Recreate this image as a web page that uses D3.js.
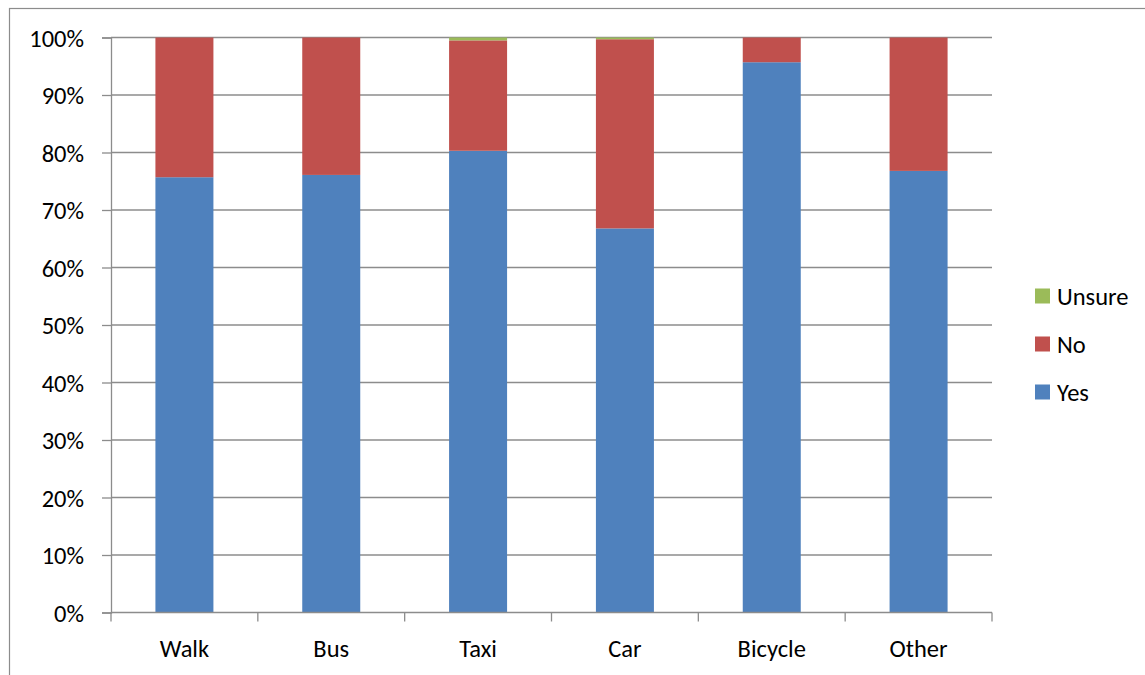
<!DOCTYPE html>
<html>
<head>
<meta charset="utf-8">
<script src="https://cdn.jsdelivr.net/npm/d3@7"></script>
<style>
  html, body { margin: 0; padding: 0; background: #fff; }
  svg { display: block; }
  text { font-family: Carlito, Lato, "Open Sans", sans-serif; fill: #000; }
</style>
</head>
<body>
<svg id="chart" width="1145" height="675"></svg>
<script>
// Transport modes and share of answers (percent)
const categories = ["Walk", "Bus", "Taxi", "Car", "Bicycle", "Other"];
const yes    = [75.7, 76.1, 80.3, 66.8, 95.7, 76.8];
const no     = [24.3, 23.9, 19.2, 32.9, 4.3, 23.2];
const unsure = [0.0, 0.0, 0.5, 0.3, 0.0, 0.0];
const seriesNames = ["Yes", "No", "Unsure"];
const seriesColors = ["#4F81BD", "#C0504D", "#9BBB59"];
const yTicks = [0, 10, 20, 30, 40, 50, 60, 70, 80, 90, 100];

const rows = categories.map((c, i) => ({ cat: c, Yes: yes[i], No: no[i], Unsure: unsure[i] }));
const stacked = d3.stack().keys(seriesNames)(rows);

const svg = d3.select("#chart");
const W = 1145, H = 675;
const m = { left: 111, right: W - 992, top: 37.5, bottom: H - 612.5 };
const fontSize = 24.5;

// chart frame
svg.append("rect")
  .attr("x", 9.5).attr("y", 8.5)
  .attr("width", W + 20).attr("height", H + 20)
  .attr("fill", "#fff").attr("stroke", "#8c8c8c").attr("stroke-width", 1.2);

const x = d3.scaleBand().domain(categories).range([m.left, W - m.right]).paddingInner(0.605).paddingOuter(0.3025);
const y = d3.scaleLinear().domain([0, 100]).range([H - m.bottom, m.top]);

// horizontal gridlines
svg.append("g").selectAll("line").data(yTicks.filter(t => t > 0)).join("line")
  .attr("x1", m.left).attr("x2", W - m.right)
  .attr("y1", d => y(d)).attr("y2", d => y(d))
  .attr("stroke", "#8c8c8c").attr("stroke-width", 1.3);

// stacked bars
svg.append("g").selectAll("g").data(stacked).join("g")
  .attr("fill", (d, i) => seriesColors[i])
  .selectAll("rect").data(d => d).join("rect")
  .attr("x", d => x(d.data.cat))
  .attr("width", x.bandwidth())
  .attr("y", d => y(d[1]))
  .attr("height", d => Math.max(0, y(d[0]) - y(d[1])));

// y axis
const yAxis = d3.axisLeft(y).tickValues(yTicks).tickFormat(d => d + "%").tickSize(9).tickPadding(18);
const gy = svg.append("g").attr("transform", `translate(${m.left},0)`).call(yAxis);
gy.selectAll("path, line").attr("stroke", "#8c8c8c").attr("stroke-width", 1.3);
gy.selectAll("text").attr("font-size", fontSize).attr("dy", "0.35em");

// x axis with ticks between categories
const step = x.step();
const gx = svg.append("g");
gx.append("line")
  .attr("x1", m.left).attr("x2", W - m.right)
  .attr("y1", y(0)).attr("y2", y(0))
  .attr("stroke", "#8c8c8c").attr("stroke-width", 1.3);
const bounds = d3.range(categories.length + 1).map(i => m.left + i * step);
gx.selectAll("line.tk").data(bounds).join("line").attr("class", "tk")
  .attr("x1", d => d).attr("x2", d => d)
  .attr("y1", y(0)).attr("y2", y(0) + 9)
  .attr("stroke", "#8c8c8c").attr("stroke-width", 1.3);
gx.selectAll("text").data(categories).join("text")
  .attr("x", d => x(d) + x.bandwidth() / 2)
  .attr("y", 648)
  .attr("dy", "0.35em")
  .attr("text-anchor", "middle")
  .attr("font-size", fontSize)
  .text(d => d);

// legend (listed top-down in reverse stack order)
const legendItems = seriesNames.slice().reverse();
const lg = svg.append("g").attr("transform", "translate(1035, 296)");
legendItems.forEach((name, i) => {
  const g = lg.append("g").attr("transform", `translate(0, ${i * 48})`);
  g.append("rect").attr("x", 0).attr("y", -7.5).attr("width", 15).attr("height", 15)
    .attr("fill", seriesColors[seriesNames.indexOf(name)]);
  g.append("text").attr("x", 22).attr("y", 0).attr("dy", "0.35em")
    .attr("font-size", fontSize).text(name);
});
</script>
</body>
</html>
